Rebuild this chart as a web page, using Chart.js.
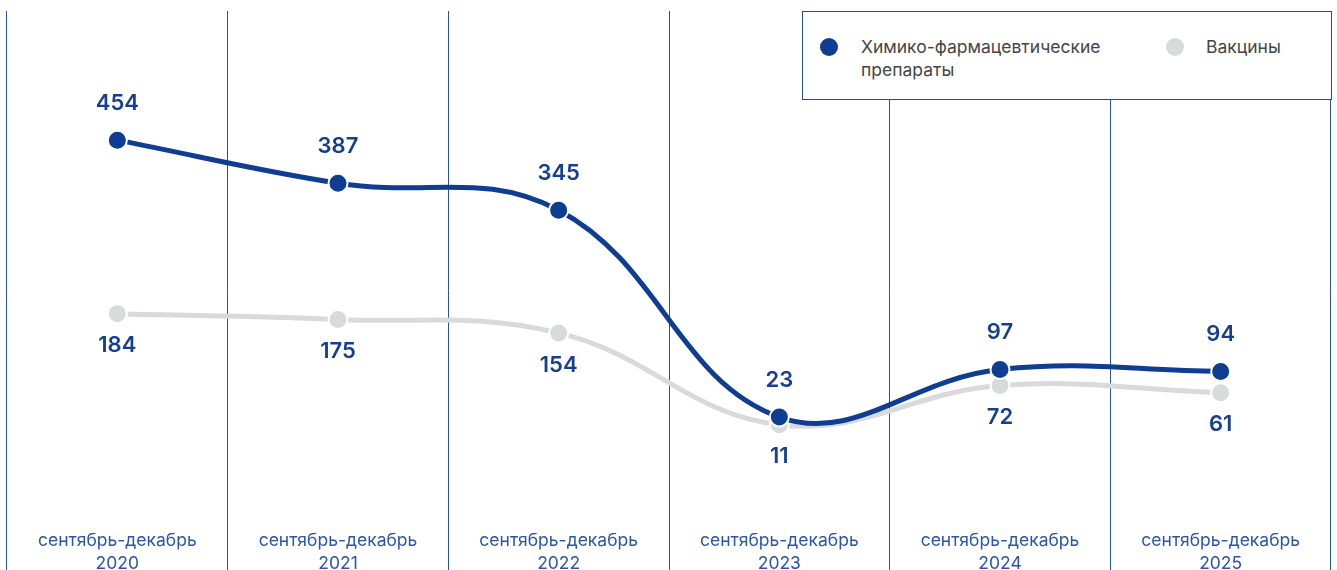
<html>
   <head>
      <title>Химико-фармацевтические препараты и вакцины</title>
      <meta charset="utf-8">
      <script src="https://cdn.jsdelivr.net/npm/chart.js@4.4.1/dist/chart.umd.min.js"></script>
      <style>
        body { margin: 0; background: #fff; }
        .chartWrapper {
        position: relative;
        width: 1337px;
        height: 570px;
        }
        .legendBox {
        position: absolute;
        left: 802px;
        top: 11px;
        width: 528px;
        height: 87px;
        border: 1px solid #1f4aa0;
        background: #fff;
        font-family: Inter, "Noto Sans", sans-serif;
        font-size: 17.5px;
        color: #454545;
        }
        .legendItem { position: absolute; top: 23px; line-height: 23px; }
        .legendDot { position: absolute; width: 18px; height: 18px; border-radius: 50%; top: 26px; }
      </style>
   </head>
   <body>
    <div class="chartWrapper">
        <canvas id="myChart" width="1337" height="570"></canvas>
        <div class="legendBox" id="legendBox"></div>
    </div>
    <script>
    // periods (two-line labels under each column)
    const periods = ['сентябрь-декабрь', 'сентябрь-декабрь', 'сентябрь-декабрь', 'сентябрь-декабрь', 'сентябрь-декабрь', 'сентябрь-декабрь'];
    const years = ['2020', '2021', '2022', '2023', '2024', '2025'];

    const chemName = 'Химико-фармацевтические препараты';
    const chemValues = [454, 387, 345, 23, 97, 94];
    const vacName = 'Вакцины';
    const vacValues = [184, 175, 154, 11, 72, 61];

    const blue = '#0f3d92';
    const grey = '#d9dadb';
    const gridBlue = '#2750a6';
    const labelBlue = '#163f90';
    const fontFam = 'Inter, "Noto Sans", sans-serif';

    // legend (html)
    var lb = document.getElementById('legendBox');
    lb.innerHTML =
        '<div class="legendDot" style="left:17px;background:' + blue + '"></div>' +
        '<div class="legendItem" style="left:58px">Химико-фармацевтические<br>препараты</div>' +
        '<div class="legendDot" style="left:363px;background:' + grey + '"></div>' +
        '<div class="legendItem" style="left:403px">Вакцины</div>';

    // value labels: chem above its points, vaccines below
    const valueLabels = {
        id: 'valueLabels',
        afterDatasetsDraw(chart) {
            var ctx = chart.ctx;
            ctx.save();
            ctx.font = '600 22px ' + fontFam;
            ctx.fillStyle = labelBlue;
            ctx.textAlign = 'center';
            ctx.textBaseline = 'middle';
            chart.data.datasets.forEach(function (ds, di) {
                var meta = chart.getDatasetMeta(di);
                meta.data.forEach(function (pt, i) {
                    var dy = di == 0 ? -37 : 32;
                    ctx.fillText(String(ds.data[i]), pt.x, pt.y + dy);
                });
            });
            ctx.restore();
        }
    };

    // period labels at the bottom of each column
    const periodLabels = {
        id: 'periodLabels',
        afterDraw(chart) {
            var ctx = chart.ctx;
            var xs = chart.scales.x;
            ctx.save();
            ctx.font = '400 17.5px ' + fontFam;
            ctx.fillStyle = '#2a55a8';
            ctx.textAlign = 'center';
            ctx.textBaseline = 'middle';
            for (var i = 0; i < years.length; i++) {
                var x = xs.getPixelForValue(i);
                ctx.fillText(periods[i], x, 541);
                ctx.fillText(years[i], x, 564);
            }
            ctx.restore();
        }
    };

    var ctx = document.getElementById('myChart').getContext('2d');
    new Chart(ctx, {
        type: 'line',
        data: {
            labels: years,
            datasets: [
                {
                    label: chemName,
                    data: chemValues,
                    borderColor: blue,
                    backgroundColor: blue,
                    borderWidth: 5,
                    tension: 0.4,
                    fill: false,
                    pointRadius: 9.5,
                    pointBorderWidth: 2,
                    pointBorderColor: '#fff',
                    pointBackgroundColor: blue
                },
                {
                    label: vacName,
                    data: vacValues,
                    borderColor: grey,
                    backgroundColor: grey,
                    borderWidth: 5,
                    tension: 0.4,
                    fill: false,
                    pointRadius: 9.5,
                    pointBorderWidth: 2,
                    pointBorderColor: '#fff',
                    pointBackgroundColor: grey
                }
            ]
        },
        options: {
            responsive: false,
            animation: false,
            layout: { autoPadding: false, padding: { top: 11, left: 7, right: 6, bottom: 0 } },
            plugins: {
                legend: { display: false },
                tooltip: { enabled: false }
            },
            scales: {
                x: {
                    offset: true,
                    border: { display: false },
                    grid: { offset: true, color: gridBlue, lineWidth: 1, drawTicks: false },
                    ticks: { display: false }
                },
                y: {
                    display: false,
                    min: -215,
                    max: 655
                }
            }
        },
        plugins: [valueLabels, periodLabels]
    });
    </script>
   </body>
</html>
